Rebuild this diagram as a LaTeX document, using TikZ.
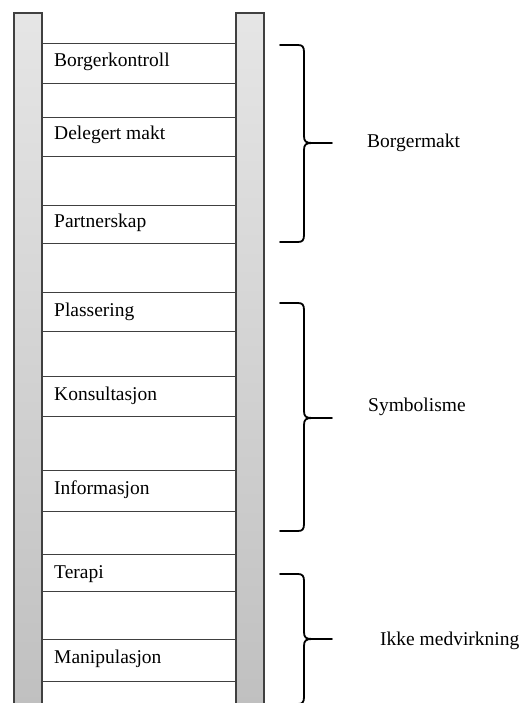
\documentclass[tikz,border=0pt]{standalone}
\usepackage{fontspec}
\setmainfont{Liberation Serif}
\begin{document}
\begin{tikzpicture}[x=1pt,y=-1pt,
  rail/.style={draw=black!75,line width=1.3pt,top color=black!10,bottom color=black!25},
  rung/.style={draw=black!75,line width=0.9pt},
  lbl/.style={anchor=base west,inner sep=0pt,font=\fontsize{19.5}{23}\selectfont},
  bracepath/.style={draw=black,line width=1.8pt,line cap=round,line join=round}]
\useasboundingbox (0,0) rectangle (520,703);
\clip (0,0) rectangle (520,703);
% rails
\draw[rail] (14,13) rectangle (42,720);
\draw[rail] (236,13) rectangle (264,720);
% rungs
\foreach \y in {43,83,117,156,205,243,292,331,376,416,470,511,554,591,639,681}
  \draw[rung] (42,\y) -- (236,\y);
% labels
\node[lbl] (l1) at (54,67) {Borgerkontroll};
\node[lbl] (l2) at (54,140) {Delegert makt};
\node[lbl] (l3) at (54,228) {Partnerskap};
\node[lbl] (l4) at (54,316) {Plassering};
\node[lbl] (l5) at (54,400) {Konsultasjon};
\node[lbl] (l6) at (54,494) {Informasjon};
\node[lbl] (l7) at (54,578) {Terapi};
\node[lbl] (l8) at (54,663) {Manipulasjon};
% braces
\foreach \yt/\ym/\yb in {45/143/242, 303/418/531, 574/639/704}{
  \draw[bracepath] (280,\yt) -- (298,\yt) .. controls (302.5,\yt) and (304,\yt+2) .. (304,\yt+7)
    -- (304,\ym-7) .. controls (304,\ym-1.5) and (306,\ym) .. (312,\ym) -- (332,\ym);
  \draw[bracepath] (312,\ym) .. controls (306,\ym) and (304,\ym+1.5) .. (304,\ym+7)
    -- (304,\yb-7) .. controls (304,\yb-2) and (302.5,\yb) .. (298,\yb) -- (280,\yb);
}
\node[lbl] (g1) at (367,148) {Borgermakt};
\node[lbl] (g2) at (368,411) {Symbolisme};
\node[lbl] (g3) at (380,645) {Ikke medvirkning};
\end{tikzpicture}
\end{document}
